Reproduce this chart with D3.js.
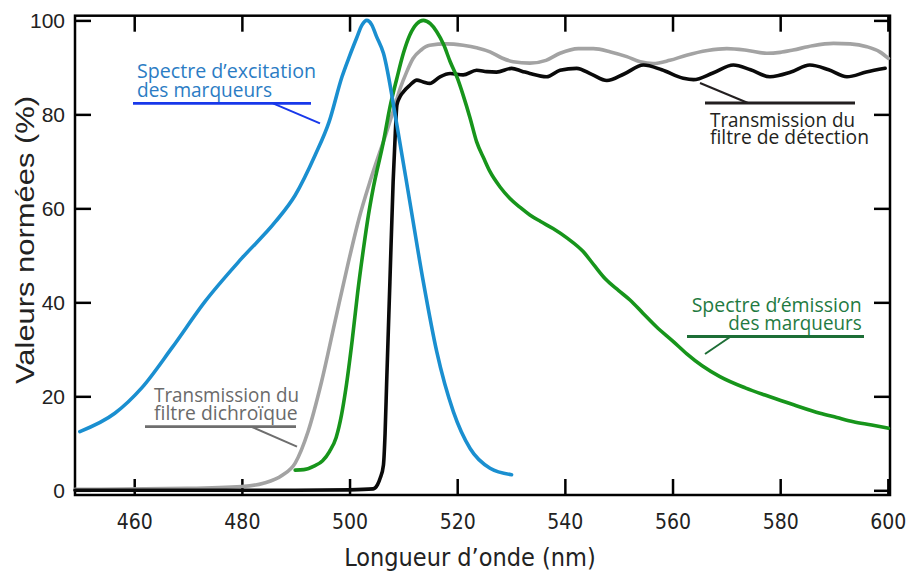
<!DOCTYPE html>
<html><head><meta charset="utf-8">
<script src="https://cdn.jsdelivr.net/npm/d3@7"></script>
<style>body{margin:0;background:#fff}</style>
</head><body>
<svg id="c" width="906" height="572"></svg>
<script>
// ---------- data ----------
const xTicks = [460, 480, 500, 520, 540, 560, 580, 600];
const yTicks = [0, 20, 40, 60, 80, 100];
const xTitle = "Longueur d’onde (nm)";
const yTitle = "Valeurs normées (%)";

// Spectre d'excitation des marqueurs (blue)
const excWl  = [449.9,456.4,461.4,467.0,473.1,480.0,486.2,489.9,493.6,496.2,498.6,500.0,501.3,502.3,503.2,504.1,505.0,506.3,508.8,511.2,513.7,516.2,519.3,522.4,526.1,530.1];
const excVal = [12.5,16.4,21.8,30.3,40.1,49.4,57.1,62.8,71.3,78.4,88.0,92.4,96.2,99.0,100,99.1,96.6,93.0,77.7,61.4,44.4,29.5,16.7,8.9,4.7,3.3];

// Transmission du filtre dichroïque (gray)
const dicWl  = [449,470,480,484,487.5,489.9,492.3,494.8,497.3,499.8,501.8,503.8,506.9,508.2,509.4,510.6,511.8,513.3,514.9,518,521.1,523.6,526.1,528.3,530.4,533.5,536.5,539.1,542.5,545.3,548.5,551.5,554,556.4,559.5,562.6,566.5,570.1,574,577.5,580,582.4,586,589.9,593,596.1,598.5,600.1];
const dicVal = [0.2,0.4,0.8,1.5,3.2,5.8,12.5,23.1,35.9,48.6,58,65.7,76.3,81,85.5,89,91.9,93.7,94.7,95,94.7,94.2,93.3,92,91.2,90.9,91.5,93,94,94,93.3,92.3,91.2,90.8,91.5,92.6,93.6,94,93.6,93,93.2,93.7,94.6,95.1,95,94.4,93.3,91.9];

// Transmission du filtre de détection (black)
const detWl  = [449,470,490,500,504.4,505.2,505.7,506.3,506.6,506.9,507.5,508.1,508.5,508.8,509.3,510,511.2,512.5,513.7,514.9,516.8,518.7,521.1,523.6,525.5,527.3,530.1,532,533.5,536.6,539.1,542.2,545,547.8,551,554.6,558,562,563.9,567.5,571.3,574.5,578.1,582,585.5,589,592.4,596,599.5];
const detVal = [0,0,0,0.1,0.3,1.2,2.6,5.4,12,23.1,44.4,65.7,76,82,83.6,84.8,86.2,87.3,86.9,86.6,88,88.7,88.4,89.4,89.1,89,89.8,89.2,88.7,88,89.4,89.8,88.5,87.2,88.6,90.5,89.5,87.7,87.4,88.8,90.5,89.5,88,89,90.5,89.5,88,89,89.8];

// Spectre d'émission des marqueurs (green)
const emiWl  = [489.9,491.5,493.5,495,496.3,497.5,498.5,499.3,500.5,501.5,502.6,503.5,504.4,506.3,507.5,508.8,510,511.2,512.5,513.7,515,516.2,517.5,518.7,520,521.1,522.4,523.6,525,526.1,528,529.8,531.7,533.5,535.5,537.8,540.5,543.4,545.5,547.5,550,552.1,554.5,557,560,562.6,565.5,568.8,573.5,578.1,582.5,587.4,590.5,593.6,597,600.1];
const emiVal = [4.3,4.4,5.2,6.3,8.3,11.2,16,21.5,32,42,51.5,58.5,64.3,74.2,81.5,87.7,93,96.9,99.3,100,99.3,97.6,94.8,91.2,87.8,84.1,79.2,74.2,70.5,67.8,64.5,62.1,60.2,58.6,57.2,55.7,53.6,50.8,47.8,45,42.5,40.5,37.7,34.8,31.8,29.1,26.5,24.2,21.8,19.9,18.2,16.4,15.5,14.6,13.9,13.2];

const labelExc = ["Spectre d’excitation", "des marqueurs"];
const labelDic = ["Transmission du", "filtre dichroïque"];
const labelDet = ["Transmission du", "filtre de détection"];
const labelEmi = ["Spectre d’émission", "des marqueurs"];

// ---------- chart ----------
const svg = d3.select("#c");
const L = 75, R = 890, T = 15.7, B = 495;
const x = d3.scaleLinear().domain([449, 600.4]).range([L, R]);
const y = d3.scaleLinear().domain([-1, 101]).range([B, T]);

const tickFont = "'Liberation Sans Narrow','Arial Narrow','DejaVu Sans Condensed',sans-serif";
const yFont = "'Liberation Sans',Arial,sans-serif";

function styleAxis(g){
  g.select(".domain").remove();
  g.selectAll(".tick line").attr("stroke","#000").attr("stroke-width",2.5);
}

svg.append("g").attr("transform",`translate(0,${B})`)
  .call(d3.axisBottom(x).tickValues(xTicks).tickSize(-16).tickPadding(19).tickFormat(d3.format("d")))
  .call(styleAxis)
  .call(g=>g.selectAll("text").attr("font-family",tickFont).attr("font-size",21).attr("fill","#222"));
svg.append("g").attr("transform",`translate(0,${T})`)
  .call(d3.axisTop(x).tickValues(xTicks).tickSize(-16).tickFormat(""))
  .call(styleAxis);
svg.append("g").attr("transform",`translate(${L},0)`)
  .call(d3.axisLeft(y).tickValues(yTicks).tickSize(-16).tickPadding(10).tickFormat(d3.format("d")))
  .call(styleAxis)
  .call(g=>g.selectAll("text").attr("font-family",yFont).attr("font-size",21).attr("fill","#222"));
svg.append("g").attr("transform",`translate(${R},0)`)
  .call(d3.axisRight(y).tickValues(yTicks).tickSize(-16).tickFormat(""))
  .call(styleAxis);

svg.append("rect").attr("x",L).attr("y",T).attr("width",R-L).attr("height",B-T)
  .attr("fill","none").attr("stroke","#000").attr("stroke-width",2.5);

// titles
svg.append("text").attr("x",470).attr("y",566).attr("text-anchor","middle")
  .attr("font-family",tickFont).attr("font-size",25).attr("fill","#222").text(xTitle);
svg.append("text").attr("transform","translate(34,240) rotate(-90)").attr("text-anchor","middle")
  .attr("font-family",yFont).attr("font-size",25).attr("fill","#222")
  .attr("textLength",288).attr("lengthAdjust","spacingAndGlyphs").text(yTitle);

// curves
const line = d3.line().x(d=>x(d[0])).y(d=>y(d[1])).curve(d3.curveMonotoneX);
function curve(wl, val, color){
  svg.append("path").datum(d3.zip(wl, val)).attr("d", line)
    .attr("fill","none").attr("stroke",color).attr("stroke-width",3.6)
    .attr("stroke-linecap","round").attr("stroke-linejoin","round");
}
curve(dicWl, dicVal, "#a3a3a3");
curve(detWl, detVal, "#0a0a0a");
curve(emiWl, emiVal, "#17951b");
curve(excWl, excVal, "#1a8fd0");

// annotations
const annFont = "'Open Sans','Noto Sans',sans-serif";
function annot(lines, x0, base, lens, anchorEnd, color, ulColor, ul, leader){
  lines.forEach((t,i)=>{
    const xs = anchorEnd ? x0 - lens[i] : x0;
    svg.append("text").attr("x",xs).attr("y",base[i]).attr("font-family",annFont)
      .attr("font-size",19.5).attr("fill",color)
      .attr("textLength",lens[i]).attr("lengthAdjust","spacingAndGlyphs").text(t);
  });
  svg.append("line").attr("x1",ul[0]).attr("x2",ul[1]).attr("y1",ul[2]).attr("y2",ul[2])
    .attr("stroke",ulColor).attr("stroke-width",2.8);
  svg.append("line").attr("x1",leader[0]).attr("y1",leader[1]).attr("x2",leader[2]).attr("y2",leader[3])
    .attr("stroke",ulColor).attr("stroke-width",2);
}
annot(labelExc, 137, [78.3, 96.7], [179, 135], false, "#2b7cc4", "#1838ea", [133, 311, 103.3], [273, 103.3, 320, 123.3]);
annot(labelDic, 154, [401.7, 420], [145, 143.7], false, "#6a6a6a", "#6e6e6e", [145, 296, 426.7], [252, 427, 297, 446.7]);
annot(labelDet, 710, [126.5, 144], [145, 159], false, "#231f20", "#231f20", [705, 855, 103], [700, 83, 748, 103]);
annot(labelEmi, 861.7, [311.7, 330], [170, 133.4], true, "#1f7a42", "#1d6e36", [687, 864, 336.5], [730, 337, 705, 354]);
</script>
</body></html>
